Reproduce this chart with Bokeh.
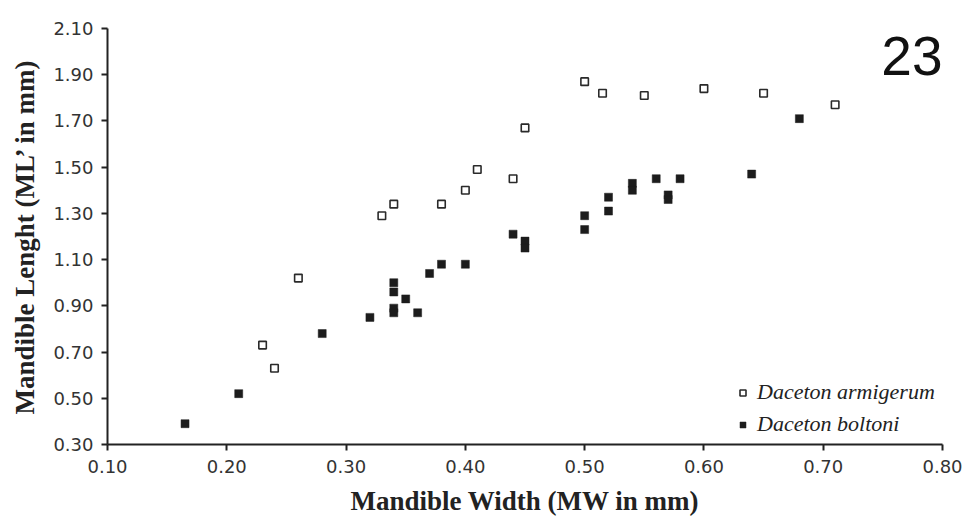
from bokeh.plotting import figure
from bokeh.models import FixedTicker, PrintfTickFormatter, Legend, LegendItem, Label, Range1d
from bokeh.embed import file_html
from bokeh.resources import INLINE

# --- data ---
armigerum_mw = [0.23, 0.24, 0.26, 0.33, 0.34, 0.38, 0.40, 0.41, 0.44, 0.45,
                0.50, 0.515, 0.55, 0.60, 0.65, 0.71]
armigerum_ml = [0.73, 0.63, 1.02, 1.29, 1.34, 1.34, 1.40, 1.49, 1.45, 1.67,
                1.87, 1.82, 1.81, 1.84, 1.82, 1.77]

boltoni_mw = [0.165, 0.21, 0.28, 0.32, 0.34, 0.34, 0.34, 0.34, 0.35, 0.36,
              0.37, 0.38, 0.40, 0.44, 0.45, 0.45, 0.50, 0.50, 0.52, 0.52,
              0.54, 0.54, 0.56, 0.57, 0.57, 0.58, 0.64, 0.68]
boltoni_ml = [0.39, 0.52, 0.78, 0.85, 1.00, 0.96, 0.89, 0.87, 0.93, 0.87,
              1.04, 1.08, 1.08, 1.21, 1.18, 1.15, 1.29, 1.23, 1.37, 1.31,
              1.43, 1.40, 1.45, 1.38, 1.36, 1.45, 1.47, 1.71]

x_ticks = [0.10, 0.20, 0.30, 0.40, 0.50, 0.60, 0.70, 0.80]
y_ticks = [0.30, 0.50, 0.70, 0.90, 1.10, 1.30, 1.50, 1.70, 1.90, 2.10]

x_title = "Mandible Width (MW in mm)"
y_title = "Mandible Lenght (ML\u2019 in mm)"
series_names = ["Daceton armigerum", "Daceton boltoni"]
panel_tag = "23"

p = figure(width=966, height=522, output_backend="svg", toolbar_location=None,
           x_range=Range1d(0.10, 0.80), y_range=Range1d(0.30, 2.10),
           min_border_left=107, min_border_right=24, min_border_top=28, min_border_bottom=78)
p.frame_width = 835
p.frame_height = 416
p.outline_line_color = None
p.xgrid.visible = False
p.ygrid.visible = False
p.background_fill_color = "white"
p.border_fill_color = "white"

r_arm = p.scatter(armigerum_mw, armigerum_ml, marker="square", size=7.5,
                  fill_color="white", line_color="#2a2a2a", line_width=1.6)
r_bol = p.scatter(boltoni_mw, boltoni_ml, marker="square", size=8,
                  fill_color="#1c1c1c", line_color="#1c1c1c", line_width=0.5)

for ax in (p.xaxis[0], p.yaxis[0]):
    ax.axis_line_color = "#222222"
    ax.axis_line_width = 2
    ax.major_tick_line_color = "#222222"
    ax.major_tick_line_width = 2
    ax.major_tick_out = 6
    ax.major_tick_in = 0
    ax.minor_tick_line_color = None
    ax.major_label_text_font = "DejaVu Sans"
    ax.major_label_text_font_size = "18px"
    ax.major_label_text_color = "#333333"
    ax.axis_label_text_font = "Liberation Serif"
    ax.axis_label_text_font_style = "bold"
    ax.axis_label_text_font_size = "27px"
    ax.axis_label_text_color = "#222222"

p.xaxis[0].ticker = FixedTicker(ticks=x_ticks)
p.yaxis[0].ticker = FixedTicker(ticks=y_ticks)
p.xaxis[0].formatter = PrintfTickFormatter(format="%.2f")
p.yaxis[0].formatter = PrintfTickFormatter(format="%.2f")
p.xaxis[0].major_label_standoff = 9
p.yaxis[0].major_label_standoff = 8
p.xaxis[0].axis_label = x_title
p.yaxis[0].axis_label = y_title
p.xaxis[0].axis_label_standoff = 10
p.yaxis[0].axis_label_standoff = 10

legend = Legend(items=[LegendItem(label=series_names[0], renderers=[r_arm]),
                       LegendItem(label=series_names[1], renderers=[r_bol])],
                location=(628, 7))
legend.label_text_font = "Liberation Serif"
legend.label_text_font_style = "italic"
legend.label_text_font_size = "22px"
legend.label_text_color = "#222222"
legend.glyph_width = 15
legend.glyph_height = 15
legend.label_height = 26
legend.spacing = 6
legend.padding = 0
legend.margin = 0
legend.label_standoff = 7
legend.border_line_color = None
legend.background_fill_alpha = 0
p.add_layout(legend, "center")

tag = Label(x=0.80, y=2.10, x_offset=0, y_offset=-27, text=panel_tag,
            text_align="right", text_baseline="alphabetic",
            text_font="Liberation Sans", text_font_size="55px", text_color="#111111")
p.add_layout(tag)

open("out.html", "w").write(file_html(p, INLINE))
